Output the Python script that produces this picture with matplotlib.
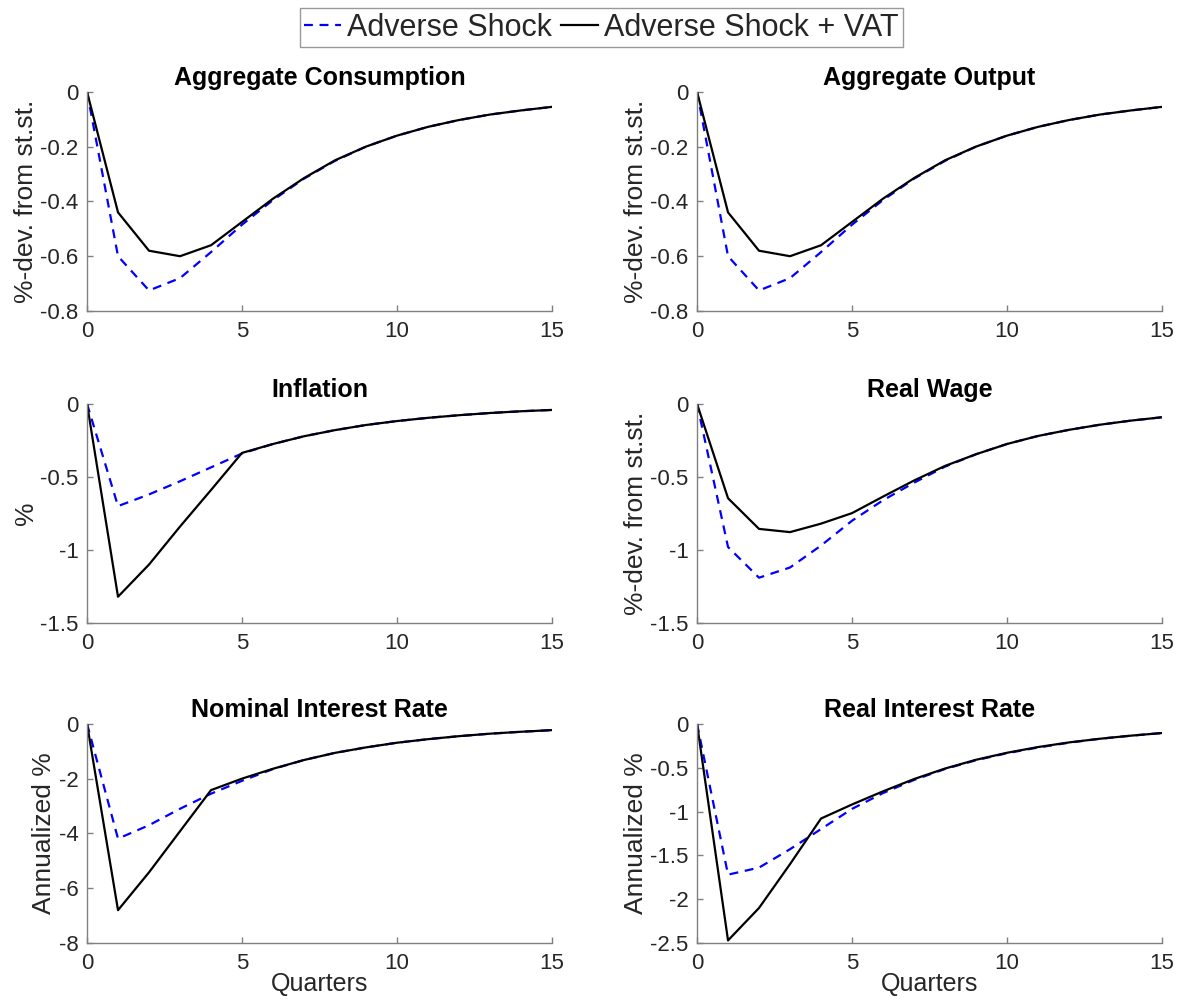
import numpy as np
import matplotlib.pyplot as plt

plt.rcParams["font.family"] = ["Liberation Sans", "DejaVu Sans"]

quarters = np.arange(16)

# Aggregate consumption / output
cons_shock = [0, -0.60, -0.725, -0.68, -0.585, -0.485, -0.395, -0.317, -0.252, -0.200,
              -0.160, -0.128, -0.103, -0.083, -0.068, -0.055]
cons_vat = [0, -0.44, -0.58, -0.60, -0.56, -0.475, -0.39, -0.315, -0.25, -0.20,
            -0.16, -0.128, -0.103, -0.083, -0.068, -0.055]
out_shock = list(cons_shock)
out_vat = list(cons_vat)

# Inflation
infl_shock = [0, -0.70, -0.62, -0.53, -0.435, -0.34, -0.275, -0.222, -0.18, -0.145,
              -0.118, -0.096, -0.078, -0.063, -0.051, -0.042]
infl_vat = [0, -1.32, -1.10, -0.84, -0.59, -0.336, -0.275, -0.222, -0.18, -0.145,
            -0.118, -0.096, -0.078, -0.063, -0.051, -0.042]

# Real wage
wage_shock = [0, -0.98, -1.19, -1.12, -0.97, -0.80, -0.66, -0.54, -0.43, -0.345,
              -0.275, -0.22, -0.178, -0.143, -0.115, -0.092]
wage_vat = [0, -0.646, -0.856, -0.878, -0.82, -0.748, -0.635, -0.525, -0.425, -0.345,
            -0.275, -0.22, -0.178, -0.143, -0.115, -0.092]

# Nominal interest rate
nom_shock = [0, -4.19, -3.70, -3.10, -2.55, -2.08, -1.65, -1.32, -1.06, -0.86,
             -0.69, -0.56, -0.45, -0.36, -0.29, -0.23]
nom_vat = [0, -6.80, -5.42, -3.92, -2.42, -2.00, -1.64, -1.32, -1.06, -0.86,
           -0.69, -0.56, -0.45, -0.36, -0.29, -0.23]

# Real interest rate
real_shock = [0, -1.72, -1.64, -1.43, -1.20, -0.97, -0.79, -0.64, -0.515, -0.415,
              -0.335, -0.27, -0.215, -0.17, -0.135, -0.105]
real_vat = [0, -2.47, -2.10, -1.60, -1.08, -0.92, -0.77, -0.63, -0.51, -0.41,
            -0.33, -0.265, -0.212, -0.17, -0.135, -0.105]

titles = ["Aggregate Consumption", "Aggregate Output", "Inflation", "Real Wage",
          "Nominal Interest Rate", "Real Interest Rate"]
ylabels = ["%-dev. from st.st.", "%-dev. from st.st.", "%", "%-dev. from st.st.",
           "Annualized %", "Annualized %"]
shock_series = [cons_shock, out_shock, infl_shock, wage_shock, nom_shock, real_shock]
vat_series = [cons_vat, out_vat, infl_vat, wage_vat, nom_vat, real_vat]
ylims = [(-0.8, 0), (-0.8, 0), (-1.5, 0), (-1.5, 0), (-8, 0), (-2.5, 0)]
yticks = [[-0.8, -0.6, -0.4, -0.2, 0], [-0.8, -0.6, -0.4, -0.2, 0], [-1.5, -1, -0.5, 0],
          [-1.5, -1, -0.5, 0], [-8, -6, -4, -2, 0], [-2.5, -2, -1.5, -1, -0.5, 0]]

fig = plt.figure(figsize=(11.79, 10.01), dpi=100)

col_x = [0.0738, 0.5912]
row_y = [0.6893, 0.3776, 0.0579]
w, h = 0.3944, 0.219

for i in range(6):
    r, c = divmod(i, 2)
    ax = fig.add_axes([col_x[c], row_y[r], w, h])
    l1, = ax.plot(quarters, shock_series[i], "--", color="blue", lw=1.6, dashes=(4, 3))
    l2, = ax.plot(quarters, vat_series[i], "-", color="black", lw=1.6)
    ax.set_xlim(0, 15)
    ax.set_ylim(*ylims[i])
    ax.set_xticks([0, 5, 10, 15])
    ax.set_yticks(yticks[i])
    ax.set_yticklabels([f"{v:g}" for v in yticks[i]])
    ax.set_title(titles[i], fontsize=18, fontweight="bold", pad=5)
    ax.set_ylabel(ylabels[i], fontsize=19, color="#262626", labelpad=2)
    if r == 2:
        ax.set_xlabel("Quarters", fontsize=18, color="#262626", labelpad=-1)
    for s in ["top", "right"]:
        ax.spines[s].set_visible(False)
    for s in ["left", "bottom"]:
        ax.spines[s].set_color("#808080")
        ax.spines[s].set_linewidth(1.0)
    ax.tick_params(direction="in", length=4, width=1.0, color="#808080",
                   labelsize=16, labelcolor="#262626", pad=7)
    ax.tick_params(axis="y", pad=6)

leg = fig.legend([l1, l2], ["Adverse Shock", "Adverse Shock + VAT"],
                 loc="upper center", bbox_to_anchor=(0.51, 0.998), ncol=2,
                 fontsize=22, frameon=True, fancybox=False, handlelength=1.2,
                 handletextpad=0.2, columnspacing=0.3, borderpad=0.15,
                 borderaxespad=0.2)
leg.get_frame().set_edgecolor("#808080")
leg.get_frame().set_linewidth(1.0)
for t in leg.get_texts():
    t.set_color("#262626")

fig.savefig("out.png", dpi=100)
